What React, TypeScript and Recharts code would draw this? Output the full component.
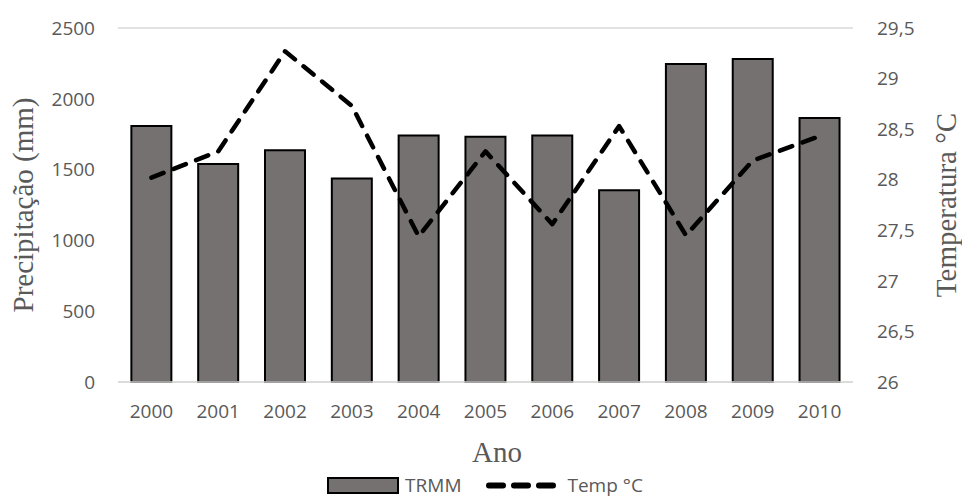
import React from 'react';
import {
  ComposedChart,
  Bar,
  Line,
  XAxis,
  YAxis,
  CartesianGrid,
  Legend,
} from 'recharts';

const anos = ['2000', '2001', '2002', '2003', '2004', '2005', '2006', '2007', '2008', '2009', '2010'];
const trmm = [1808, 1540, 1636, 1438, 1740, 1732, 1740, 1354, 2246, 2281, 1864];
const temp = [28.02, 28.28, 29.27, 28.73, 27.44, 28.28, 27.56, 28.53, 27.45, 28.19, 28.43];

const precTicks = [0, 500, 1000, 1500, 2000, 2500];
const tempTicks = [26, 26.5, 27, 27.5, 28, 28.5, 29, 29.5];

const data = anos.map((ano, i) => ({ ano, trmm: trmm[i], temp: temp[i] }));

const TEXT = '#595959';
const BAR_FILL = '#767171';
const tickFont = { fontFamily: "'Open Sans', sans-serif", fontSize: 19, fill: TEXT };
const titleFont = "'Liberation Serif', 'Times New Roman', serif";

const fmtTemp = (v: number) => String(v).replace('.', ',');

const LegendBox = () => (
  <div
    style={{
      display: 'flex',
      justifyContent: 'center',
      alignItems: 'center',
      height: 26,
      fontFamily: "'Open Sans', sans-serif",
      fontSize: 19,
      color: TEXT,
      paddingLeft: 8,
    }}
  >
    <svg width={72} height={17} style={{ marginRight: 6 }}>
      <rect x={1} y={1} width={70} height={15} fill={BAR_FILL} stroke="#000" strokeWidth={2} />
    </svg>
    <span style={{ marginRight: 24 }}>TRMM</span>
    <svg width={74} height={17} style={{ marginRight: 8 }}>
      <line
        x1={4}
        y1={8.5}
        x2={72}
        y2={8.5}
        stroke="#000"
        strokeWidth={6}
        strokeLinecap="round"
        strokeDasharray="14 11"
      />
    </svg>
    <span>Temp °C</span>
  </div>
);

export default function App() {
  return (
    <div style={{ position: 'absolute', left: 0, top: 0, width: 962, height: 498, background: '#fff' }}>
      <ComposedChart
        width={962}
        height={498}
        data={data}
        margin={{ top: 28, right: 0, bottom: 0, left: 0 }}
        barCategoryGap="20%"
      >
        <CartesianGrid vertical={false} stroke="#d9d9d9" strokeWidth={1.5} />
        <XAxis
          dataKey="ano"
          interval={0}
          height={90}
          axisLine={{ stroke: '#d9d9d9', strokeWidth: 1.5 }}
          tickLine={false}
          tickSize={0}
          tickMargin={23}
          tick={tickFont}
          label={({ viewBox }: any) => (
            <text
              x={497}
              y={viewBox.y + 80}
              textAnchor="middle"
              fontFamily={titleFont}
              fontSize={29}
              fill={TEXT}
            >
              Ano
            </text>
          )}
        />
        <YAxis
          yAxisId="prec"
          width={118}
          domain={[0, 2500]}
          ticks={precTicks}
          axisLine={false}
          tickLine={false}
          tickSize={0}
          tickMargin={23}
          tick={tickFont}
          label={({ viewBox }: any) => {
            const cy = viewBox.y + viewBox.height / 2;
            return (
              <text
                x={23}
                y={cy}
                transform={`rotate(-90 23 ${cy})`}
                textAnchor="middle"
                dominantBaseline="central"
                fontFamily={titleFont}
                fontSize={29}
                fill={TEXT}
              >
                Precipitação (mm)
              </text>
            );
          }}
        />
        <YAxis
          yAxisId="temp"
          orientation="right"
          width={109}
          domain={[26, 29.5]}
          ticks={tempTicks}
          tickFormatter={fmtTemp}
          axisLine={false}
          tickLine={false}
          tickSize={0}
          tickMargin={24}
          tick={tickFont}
          label={({ viewBox }: any) => {
            const cy = viewBox.y + viewBox.height / 2;
            return (
              <text
                x={946}
                y={cy}
                transform={`rotate(-90 946 ${cy})`}
                textAnchor="middle"
                dominantBaseline="central"
                fontFamily={titleFont}
                fontSize={29}
                fill={TEXT}
              >
                Temperatura °C
              </text>
            );
          }}
        />
        <Bar
          yAxisId="prec"
          dataKey="trmm"
          name="TRMM"
          fill={BAR_FILL}
          stroke="#000"
          strokeWidth={2}
          isAnimationActive={false}
        />
        <Line
          yAxisId="temp"
          dataKey="temp"
          name="Temp °C"
          type="linear"
          stroke="#000"
          strokeWidth={4.5}
          strokeDasharray="13 11"
          strokeLinecap="round"
          strokeLinejoin="round"
          dot={false}
          activeDot={false}
          isAnimationActive={false}
        />
        <Legend verticalAlign="bottom" height={26} content={() => <LegendBox />} />
      </ComposedChart>
    </div>
  );
}
